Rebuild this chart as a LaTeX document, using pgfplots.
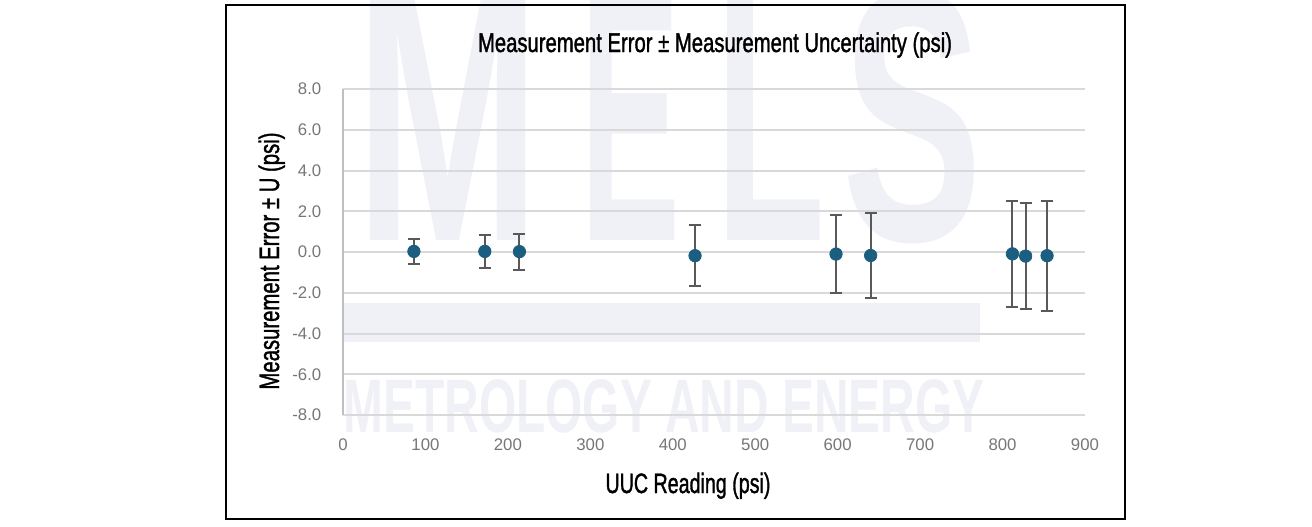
\documentclass[border=0pt]{standalone}
\usepackage{fontspec}
\setmainfont{Liberation Sans}
\newfontfamily\condfont[FakeBold=1.6]{Liberation Sans}
\usepackage{graphicx}
\usepackage{pgfplots}
\pgfplotsset{compat=1.18}
\definecolor{markc}{RGB}{27,94,128}
\definecolor{ebar}{RGB}{89,89,89}
\definecolor{gridc}{RGB}{217,217,217}
\definecolor{axc}{RGB}{191,191,191}
\definecolor{wm}{RGB}{240,240,247}
\definecolor{tickc}{RGB}{118,118,118}
\pgfplotstableread{
x y u
86 0.03 0.63
172 0.03 0.79
214 0.02 0.88
427 -0.18 1.50
598 -0.10 1.90
640 -0.17 2.10
812 -0.09 2.61
828 -0.20 2.62
854 -0.18 2.70
}\datatable
\begin{document}
\begin{tikzpicture}
\begin{scope}[x=0.5pt,y=-0.5pt]
\useasboundingbox (0,0) rectangle (1312,526);
\begin{scope}
\clip (0,0) rectangle (1312,526);
% watermark
\node[text=wm, inner sep=0, anchor=base west] at (355,240) {\resizebox{92.5pt}{125pt}{\bfseries M}};
\node[text=wm, inner sep=0, anchor=base west] at (580,240) {\resizebox{50pt}{125pt}{\bfseries E}};
\node[text=wm, inner sep=0, anchor=base west] at (715,240) {\resizebox{55pt}{125pt}{\bfseries L}};
\node[text=wm, inner sep=0, anchor=base west] at (842,240) {\resizebox{70pt}{125pt}{\bfseries S}};
\fill[wm] (343,303) rectangle (980,342);
\node[text=wm, inner sep=0, anchor=base west] at (343,432) {\resizebox{320.5pt}{26.5pt}{\bfseries METROLOGY AND ENERGY}};
\end{scope}
\end{scope}
\begin{axis}[
 at={(171.5pt,-207.5pt)}, anchor=south west, scale only axis,
 width=371pt, height=163pt,
 xmin=0, xmax=900, ymin=-8, ymax=8,
 xtick={0,100,...,900}, ytick={-8,-6,...,8},
 axis lines*=left,
 x axis line style={draw=none},
 y axis line style={draw=axc, line width=1pt},
 ymajorgrids, grid style={draw=gridc, line width=1pt},
 major tick length=0pt,
 tick label style={font=\fontsize{8.4}{10}\selectfont, text=tickc},
 /pgf/number format/assume math mode=true,
 yticklabel style={/pgf/number format/fixed, /pgf/number format/fixed zerofill, /pgf/number format/precision=1, xshift=-7.3pt},
 xticklabel style={yshift=-8.3pt},
 clip=false,
]
\addplot[only marks, mark=*, mark size=3.1pt, mark options={fill=markc, draw=markc},
  error bars/.cd, y dir=both, y explicit,
  error bar style={ebar, line width=1pt},
  error mark options={rotate=90, mark size=3pt, ebar, line width=1pt}]
  table[x=x, y=y, y error=u] {\datatable};
\end{axis}
\begin{scope}[x=0.5pt,y=-0.5pt]
\draw[line width=1.2pt, black] (226,5) rectangle (1125,519);
\node[anchor=base, inner sep=0] at (715,52) {\resizebox{237pt}{\height}{\condfont\fontsize{13.6pt}{16pt}\selectfont Measurement Error ± Measurement Uncertainty (psi)}};
\node[anchor=base, inner sep=0] at (688,493) {\resizebox{82.5pt}{\height}{\condfont\fontsize{14pt}{16pt}\selectfont UUC Reading (psi)}};
\node[anchor=base, inner sep=0, rotate=90] at (279,261) {\resizebox{128.5pt}{\height}{\condfont\fontsize{14pt}{16pt}\selectfont Measurement Error ± U (psi)}};
\end{scope}
\end{tikzpicture}
\end{document}
